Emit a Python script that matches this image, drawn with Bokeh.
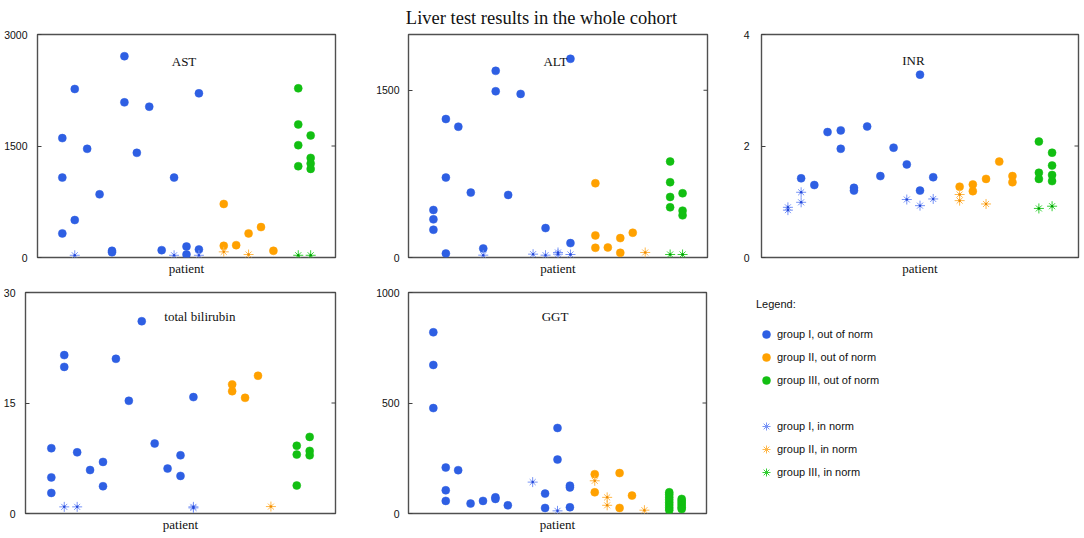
from bokeh.plotting import figure
from bokeh.layouts import column, row
from bokeh.models import Range1d, FixedTicker, LinearAxis, Label, Legend, LegendItem
from bokeh.embed import file_html
from bokeh.resources import INLINE

SERIF = "Liberation Serif"
SANS = "Liberation Sans"

# ---------------- data ----------------
GROUP_I = [2, 3, 4, 5, 6, 7, 8, 9, 10, 11, 12, 13]
GROUP_II = [15, 16, 17, 18, 19]
GROUP_III = [21, 22]

AST_OUT_PATIENT = [2, 2, 2, 3, 3, 4, 5, 6, 6, 7, 7, 8, 9, 10, 11, 12, 12, 13, 13,
                   15, 15, 16, 17, 18, 19, 21, 21, 21, 21, 22, 22, 22, 22]
AST_OUT_VALUE = [1606, 1075, 324, 2267, 504, 1462, 850, 90, 70, 2708, 2087, 1408, 2029, 99, 1075, 148, 40, 2208, 108,
                 720, 157, 166, 324, 409, 90, 2276, 1790, 1511, 1228, 1642, 1340, 1264, 1192]
AST_IN_PATIENT = [3, 11, 13, 15, 17, 21, 22]
AST_IN_VALUE = [30, 30, 30, 76, 40, 30, 30]

ALT_OUT_PATIENT = [2, 2, 2, 3, 3, 3, 4, 5, 6, 7, 7, 8, 9, 11, 13, 13,
                   15, 15, 15, 16, 17, 17, 18, 21, 21, 21, 21, 22, 22, 22]
ALT_OUT_VALUE = [426, 342, 249, 1242, 717, 36, 1173, 582, 81, 1674, 1491, 561, 1467, 264, 1782, 129,
                 666, 198, 87, 90, 174, 42, 222, 861, 675, 543, 450, 576, 420, 378]
ALT_IN_PATIENT = [6, 10, 11, 12, 12, 13, 19, 21, 22]
ALT_IN_VALUE = [21, 30, 21, 45, 30, 27, 45, 27, 27]

INR_OUT_PATIENT = [3, 4, 5, 6, 6, 7, 7, 8, 9, 10, 11, 12, 12, 13,
                   15, 16, 16, 17, 18, 19, 19, 21, 21, 21, 22, 22, 22, 22]
INR_OUT_VALUE = [1.42, 1.30, 2.25, 2.28, 1.95, 1.25, 1.20, 2.35, 1.46, 1.97, 1.67, 3.28, 1.20, 1.44,
                 1.27, 1.31, 1.19, 1.41, 1.72, 1.46, 1.35, 2.08, 1.52, 1.41, 1.88, 1.65, 1.48, 1.37]
INR_IN_PATIENT = [2, 2, 3, 3, 11, 12, 13, 15, 15, 17, 21, 22]
INR_IN_VALUE = [0.90, 0.85, 1.17, 0.99, 1.04, 0.93, 1.05, 1.13, 1.02, 0.96, 0.88, 0.92]

BILI_OUT_PATIENT = [2, 2, 2, 3, 3, 4, 5, 6, 6, 7, 8, 9, 10, 11, 12, 12, 13,
                    16, 16, 17, 18, 21, 21, 21, 22, 22, 22]
BILI_OUT_VALUE = [8.86, 4.90, 2.79, 21.5, 19.9, 8.3, 5.9, 7.0, 3.7, 21.0, 15.3, 26.1, 9.5, 6.1, 7.9, 5.1, 15.8,
                  17.5, 16.6, 15.7, 18.7, 9.2, 8.0, 3.8, 10.4, 8.5, 7.9]
BILI_IN_PATIENT = [3, 4, 13, 13, 19]
BILI_IN_VALUE = [0.9, 0.9, 0.76, 0.9, 0.94]

GGT_OUT_PATIENT = [2, 2, 2, 3, 3, 3, 4, 5, 6, 7, 7, 8, 11, 11, 12, 12, 13, 13, 13,
                   15, 15, 17, 17, 18,
                   21, 21, 21, 21, 21, 21, 21, 21, 22, 22, 22, 22, 22, 22]
GGT_OUT_VALUE = [820, 672, 477, 208, 105, 57, 196, 45, 57, 73, 66, 37, 90, 25, 387, 244, 126, 118, 28,
                 178, 96, 183, 25, 81,
                 96, 86, 74, 62, 50, 38, 26, 15, 66, 57, 48, 38, 28, 20]
GGT_IN_PATIENT = [10, 12, 15, 16, 16, 19]
GGT_IN_VALUE = [142, 12, 148, 73, 37, 15]

PANEL_TITLES = ["AST", "ALT", "INR", "total bilirubin", "GGT"]
X_MAX = 24
Y_MAX = [3000, 2000, 4, 30, 1000]
Y_TICKS = [[0, 1500, 3000], [0, 1500], [0, 2, 4], [0, 15, 30], [0, 500, 1000]]
LEGEND_LABELS = ["group I, out of norm", "group II, out of norm", "group III, out of norm",
                 "group I, in norm", "group II, in norm", "group III, in norm"]

DOT_COLORS = ["#2e5fe3", "#ffa100", "#12bf12"]
STAR_COLORS = ["#7894f6", "#ffb84a", "#33cf33"]
STAR_CORE = ["#2448d8", "#f08c00", "#00a000"]

GROUPS = [GROUP_I, GROUP_II, GROUP_III]


def split_by_group(patients, values):
    out = []
    for g in GROUPS:
        xs = [p for p in patients if p in g]
        ys = [v for p, v in zip(patients, values) if p in g]
        out.append((xs, ys))
    return out


def draw_dots(p, xs, ys, gi, size=8):
    return p.scatter(xs, ys, marker="circle", size=size, fill_color=DOT_COLORS[gi],
                     line_color=DOT_COLORS[gi], line_width=0.5)


def draw_stars(p, xs, ys, gi, size=10, core=True):
    r1 = p.scatter(xs, ys, marker="cross", size=size, line_color=STAR_COLORS[gi], line_width=1)
    r2 = p.scatter(xs, ys, marker="x", size=size * 0.85, line_color=STAR_COLORS[gi], line_width=1)
    rs = [r1, r2]
    if core:
        rs.append(p.scatter(xs, ys, marker="circle", size=size * 0.25, fill_color=STAR_CORE[gi],
                            line_color=None))
    return rs


def make_panel(idx, out_p, out_v, in_p, in_v, width, height, bl, br, bt, bb,
               standoff, title_x, title_y):
    p = figure(width=width, height=height, output_backend="svg", toolbar_location=None,
               x_range=Range1d(0, X_MAX), y_range=Range1d(0, Y_MAX[idx]),
               min_border_left=bl, min_border_right=br, min_border_top=bt, min_border_bottom=bb,
               x_axis_type=None, y_axis_type=None)
    p.title.visible = False
    p.background_fill_color = "white"
    p.border_fill_color = "white"
    p.outline_line_color = "#505050"
    p.outline_line_width = 1.4
    p.xgrid.visible = False
    p.ygrid.visible = False

    yl = LinearAxis(ticker=FixedTicker(ticks=Y_TICKS[idx]))
    yl.axis_line_color = None
    yl.major_tick_in = 4
    yl.major_tick_out = 0
    yl.major_tick_line_color = "#404040"
    yl.minor_tick_line_color = None
    yl.major_label_standoff = standoff
    yl.major_label_text_font = SANS
    yl.major_label_text_font_size = "10.5px"
    yl.major_label_text_color = "#111111"
    p.add_layout(yl, "left")

    # inward tick marks on the right edge of the frame
    p.scatter([X_MAX] * len(Y_TICKS[idx]), Y_TICKS[idx], marker="dash", size=8,
              line_color="#404040", line_width=1)

    xa = LinearAxis(ticker=FixedTicker(ticks=[]))
    xa.axis_line_color = None
    xa.major_tick_line_color = None
    xa.minor_tick_line_color = None
    xa.major_label_standoff = 0
    xa.axis_label = "patient"
    xa.axis_label_standoff = 3
    xa.axis_label_text_font = SERIF
    xa.axis_label_text_font_style = "normal"
    xa.axis_label_text_font_size = "13px"
    xa.axis_label_text_color = "#111111"
    p.add_layout(xa, "below")

    outs = split_by_group(out_p, out_v)
    ins = split_by_group(in_p, in_v)
    for gi in range(3):
        if outs[gi][0]:
            draw_dots(p, outs[gi][0], outs[gi][1], gi)
    for gi in range(3):
        if ins[gi][0]:
            draw_stars(p, ins[gi][0], ins[gi][1], gi)

    p.add_layout(Label(x=title_x, y=title_y, x_units="data", y_units="screen",
                       text=PANEL_TITLES[idx], text_font=SERIF, text_font_size="13px",
                       text_align="center", text_baseline="alphabetic", text_color="#111111"))
    return p


# row 1 (frames y 34..257)
p_ast = make_panel(0, AST_OUT_PATIENT, AST_OUT_VALUE, AST_IN_PATIENT, AST_IN_VALUE,
                   372, 252, 37, 37, 6, 23, 10, 11.8, 196)
p_alt = make_panel(1, ALT_OUT_PATIENT, ALT_OUT_VALUE, ALT_IN_PATIENT, ALT_IN_VALUE,
                   368, 252, 36, 33, 6, 23, 9, 11.8, 196)
p_inr = make_panel(2, INR_OUT_PATIENT, INR_OUT_VALUE, INR_IN_PATIENT, INR_IN_VALUE,
                   342, 252, 19, 4, 6, 23, 12, 11.5, 197)
# row 2 (frames y 292..514)
p_bili = make_panel(3, BILI_OUT_PATIENT, BILI_OUT_VALUE, BILI_IN_PATIENT, BILI_IN_VALUE,
                    372, 254, 23, 37, 12, 20, 10, 13.5, 197)
p_ggt = make_panel(4, GGT_OUT_PATIENT, GGT_OUT_VALUE, GGT_IN_PATIENT, GGT_IN_VALUE,
                   368, 254, 36, 34, 12, 20, 9, 11.8, 197)

# legend panel
p_leg = figure(width=342, height=254, output_backend="svg", toolbar_location=None,
               x_range=Range1d(0, 1), y_range=Range1d(0, 1),
               min_border_left=10, min_border_right=0, min_border_top=10, min_border_bottom=0,
               x_axis_type=None, y_axis_type=None)
p_leg.title.visible = False
p_leg.outline_line_color = None
p_leg.xgrid.visible = False
p_leg.ygrid.visible = False

NOWHERE = [float("nan")]
items = []
for gi in range(3):
    r = draw_dots(p_leg, NOWHERE, NOWHERE, gi)
    items.append(LegendItem(label=LEGEND_LABELS[gi], renderers=[r]))
blank = p_leg.scatter(NOWHERE, NOWHERE, marker="circle", size=1, fill_alpha=0, line_alpha=0)
items.append(LegendItem(label=" ", renderers=[blank]))
for gi in range(3):
    rs = draw_stars(p_leg, NOWHERE, NOWHERE, gi, core=False)
    items.append(LegendItem(label=LEGEND_LABELS[3 + gi], renderers=rs))

leg = Legend(items=items, location="top_left", title="Legend:")
leg.margin = 6
leg.padding = 10
leg.border_line_color = None
leg.background_fill_alpha = 0
leg.glyph_width = 20
leg.glyph_height = 20
leg.label_height = 20
leg.spacing = 3
leg.label_standoff = 1
leg.label_text_font = SANS
leg.label_text_font_size = "11px"
leg.label_text_color = "#111111"
leg.label_text_baseline = "middle"
leg.title_text_font = SANS
leg.title_text_font_size = "11px"
leg.title_text_font_style = "normal"
leg.title_text_color = "#111111"
leg.title_standoff = 14
p_leg.add_layout(leg, "center")

# title strip
p_title = figure(width=1082, height=28, output_backend="svg", toolbar_location=None,
                 x_range=Range1d(0, 1), y_range=Range1d(0, 1),
                 min_border=0, x_axis_type=None, y_axis_type=None)
p_title.title.visible = False
p_title.outline_line_color = None
p_title.xgrid.visible = False
p_title.ygrid.visible = False
p_title.add_layout(Label(x=541, y=11, x_units="screen", y_units="screen",
                         text="Liver test results in the whole cohort", text_font=SERIF,
                         text_font_size="18.5px", text_align="center", text_baseline="alphabetic",
                         text_color="#111111"))

layout = column(p_title, row(p_ast, p_alt, p_inr), row(p_bili, p_ggt, p_leg))

open("out.html", "w").write(file_html(layout, INLINE))
